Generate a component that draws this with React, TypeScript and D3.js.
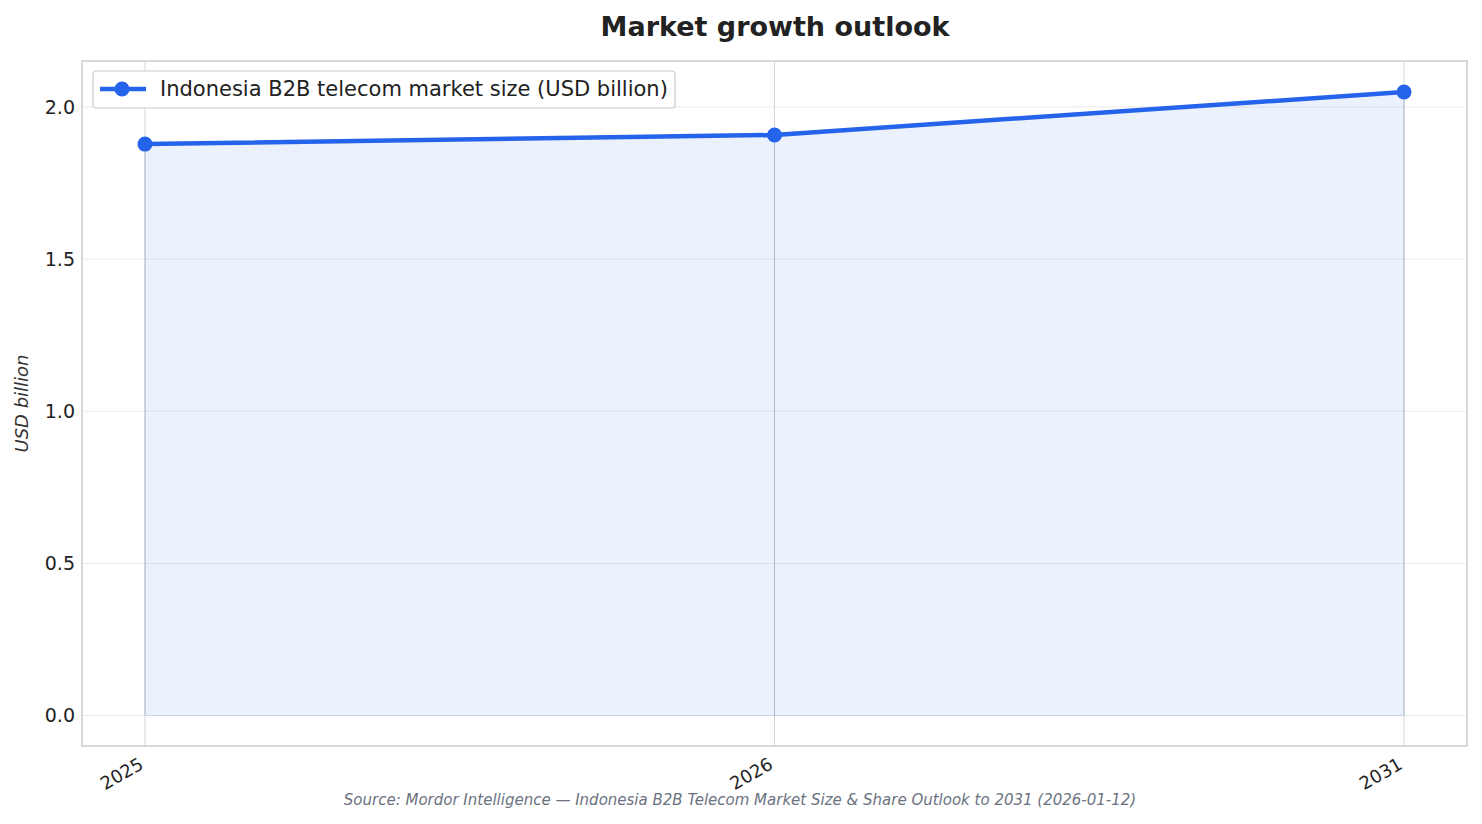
import React from "react";
import * as d3 from "d3";

const years = ["2025", "2026", "2031"];
const marketSize = [1.878, 1.908, 2.049];
const yTicks = [0, 0.5, 1.0, 1.5, 2.0];

const W = 1482;
const H = 824;
const M = { left: 82, right: 15, top: 61, bottom: 78 };

const App: React.FC = () => {
    const x = d3.scaleLinear().domain([-0.1, years.length - 1 + 0.1]).range([M.left, W - M.right]);
    const y = d3.scaleLinear().domain([-0.1, 2.151]).range([H - M.bottom, M.top]);

    const pts: [number, number][] = marketSize.map((v, i) => [x(i), y(v)]);
    const line = d3.line();
    const area = d3.area<[number, number]>().x((d) => d[0]).y0(y(0)).y1((d) => d[1]);
    const font = "DejaVu Sans, sans-serif";

    return (
        <svg width={W} height={H} style={{ position: "absolute", left: 0, top: 0 }} fontFamily={font}>
            <rect width={W} height={H} fill="#fff" />
            <text x={775} y={36} textAnchor="middle" fontSize={27} fontWeight="bold" fill="#222">
                Market growth outlook
            </text>

            {/* grid */}
            {yTicks.map((t) => (
                <line key={t} x1={M.left} x2={W - M.right} y1={y(t)} y2={y(t)} stroke="#ebebeb" strokeWidth={1} />
            ))}
            {years.map((_, i) => (
                <line key={i} x1={x(i)} x2={x(i)} y1={M.top} y2={H - M.bottom} stroke="#d6d6d6" strokeWidth={1} />
            ))}

            {/* area + line */}
            <path d={area(pts) as string} fill="#2563eb" fillOpacity={0.09} />
            <line x1={x(0)} x2={x(years.length - 1)} y1={y(0)} y2={y(0)} stroke="#2563eb" strokeOpacity={0.12} />
            {pts.map((p, i) => (
                <line key={i} x1={p[0]} x2={p[0]} y1={p[1]} y2={y(0)} stroke="#9aa8c4" strokeOpacity={0.6} />
            ))}
            <path d={line(pts) as string} fill="none" stroke="#2563eb" strokeWidth={4.5} strokeLinejoin="round" />
            {pts.map((p, i) => (
                <circle key={i} cx={p[0]} cy={p[1]} r={7.5} fill="#2563eb" />
            ))}

            {/* frame */}
            <rect x={M.left} y={M.top} width={W - M.right - M.left} height={H - M.bottom - M.top} fill="none" stroke="#cccccc" strokeWidth={1.5} />

            {/* y ticks */}
            {yTicks.map((t) => (
                <text key={t} x={75} y={y(t)} dy="0.36em" textAnchor="end" fontSize={19} fill="#222">
                    {t.toFixed(1)}
                </text>
            ))}
            <text transform={`translate(28,${(M.top + H - M.bottom) / 2}) rotate(-90)`} textAnchor="middle" fontSize={18} fontStyle="italic" fill="#333">
                USD billion
            </text>

            {/* x ticks */}
            {years.map((yr, i) => (
                <text key={yr} transform={`translate(${x(i) - 7},${H - M.bottom + 10}) rotate(-30)`} textAnchor="end" dy="0.75em" fontSize={18} fill="#222">
                    {yr}
                </text>
            ))}

            <text x={740} y={805} textAnchor="middle" fontSize={15} fontStyle="italic" fill="#6b7280">
                Source: Mordor Intelligence — Indonesia B2B Telecom Market Size &amp; Share Outlook to 2031 (2026-01-12)
            </text>

            {/* legend */}
            <g transform="translate(93,71)">
                <rect width={582} height={37} rx={3} fill="#fff" fillOpacity={0.9} stroke="#cccccc" strokeWidth={1.2} />
                <line x1={7} x2={53} y1={18} y2={18} stroke="#2563eb" strokeWidth={4.5} />
                <circle cx={29} cy={18} r={7.5} fill="#2563eb" />
                <text x={67} y={18} dy="0.35em" fontSize={21} fill="#222">
                    Indonesia B2B telecom market size (USD billion)
                </text>
            </g>
        </svg>
    );
};

export default App;
